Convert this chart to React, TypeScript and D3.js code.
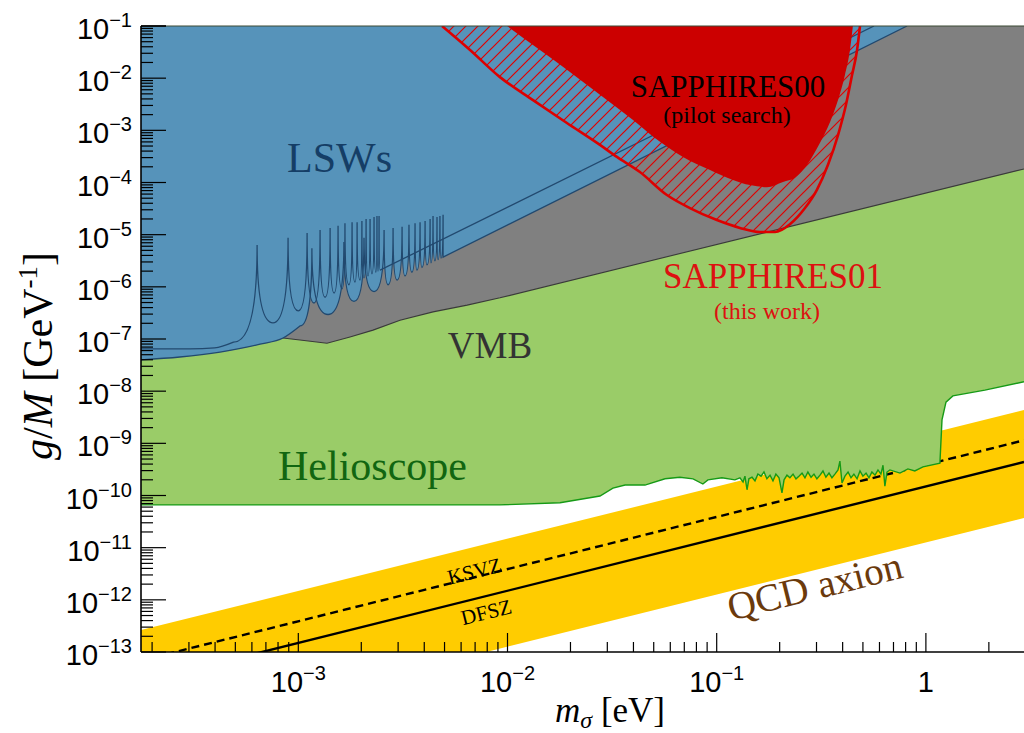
import * as d3 from "d3";

type P = [number, number];

// every point is [log10(m / eV), log10(g / GeV^-1)]

// helioscope (CAST-like) lower edge of the excluded region
const helioscope: P[] = [
  [-3.752, -10.18], [-2.275, -10.18], [-2.036, -10.18], [-1.749, -10.14], [-1.558, -10.01],
  [-1.496, -9.86], [-1.438, -9.8], [-1.343, -9.8], [-1.247, -9.68], [-1.176, -9.65],
  [-1.113, -9.68], [-1.066, -9.78], [-1.042, -9.7], [-0.975, -9.66], [-0.913, -9.7],
  [-0.889, -9.66], [-0.874, -9.74], [-0.865, -9.63], [-0.855, -9.89], [-0.846, -9.68],
  [-0.831, -9.65], [-0.817, -9.72], [-0.803, -9.59], [-0.788, -9.63], [-0.774, -9.55],
  [-0.76, -9.68], [-0.745, -9.61], [-0.731, -9.72], [-0.717, -9.59], [-0.702, -9.66],
  [-0.688, -9.95], [-0.678, -9.7], [-0.664, -9.61], [-0.65, -9.66], [-0.635, -9.59],
  [-0.621, -9.68], [-0.607, -9.63], [-0.592, -9.57], [-0.578, -9.66], [-0.564, -9.55],
  [-0.549, -9.65], [-0.535, -9.59], [-0.521, -9.68], [-0.506, -9.61], [-0.492, -9.53],
  [-0.478, -9.65], [-0.463, -9.57], [-0.449, -9.66], [-0.435, -9.59], [-0.42, -9.51],
  [-0.411, -9.34], [-0.401, -9.76], [-0.387, -9.63], [-0.372, -9.55], [-0.358, -9.66],
  [-0.344, -9.59], [-0.329, -9.68], [-0.315, -9.53], [-0.301, -9.63], [-0.286, -9.57],
  [-0.272, -9.66], [-0.258, -9.55], [-0.243, -9.61], [-0.229, -9.51], [-0.215, -9.59],
  [-0.205, -9.42], [-0.196, -9.82], [-0.186, -9.55], [-0.172, -9.51], [-0.124, -9.57],
  [-0.086, -9.49], [-0.053, -9.53], [-0.014, -9.45], [0.067, -9.38], [0.077, -8.55],
  [0.096, -8.21], [0.129, -8.09], [0.282, -7.98], [0.469, -7.82],
];

// VMB lower edge
const vmb: P[] = [
  [-3.183, -6.98], [-3.073, -6.98], [-2.992, -7.02], [-2.863, -7.08], [-2.753, -6.96],
  [-2.643, -6.83], [-2.514, -6.64], [-2.356, -6.48], [-2.193, -6.35], [-2.036, -6.21],
  [0.469, -3.74],
];

// LSW experiment A: smooth start, resonance comb (peak, valley, ...), straight tail
const lswLeadA: P[] = [[-3.752, -7.19], [-3.518, -7.19], [-3.40, -7.17], [-3.31, -7.06]];
const lswCombA: P[] = [
  [-3.197, -5.2], [-3.121, -6.69], [-3.049, -5.06], [-3.0, -6.46], [-2.958, -4.97], [-2.925, -6.31],
  [-2.896, -4.91], [-2.872, -6.2], [-2.848, -4.87], [-2.829, -6.12], [-2.81, -4.83], [-2.791, -6.04],
  [-2.777, -4.78], [-2.758, -5.96], [-2.743, -4.76], [-2.729, -5.91], [-2.719, -4.76], [-2.705, -5.87],
  [-2.696, -4.74], [-2.686, -5.83], [-2.676, -4.7], [-2.667, -5.79], [-2.657, -4.7], [-2.648, -5.75],
  [-2.638, -4.66], [-2.629, -5.72], [-2.624, -4.64], [-2.619, -5.7], [-2.614, -4.64], [-2.609, -5.68],
];
const lswTailA: P[] = [[-0.248, -1.0]];

// LSW experiment B
const lswLeadB: P[] = [
  [-3.752, -7.4], [-3.566, -7.345], [-3.374, -7.25], [-3.183, -7.1], [-3.073, -6.98], [-2.992, -6.75],
];
const lswCombB: P[] = [
  [-2.935, -5.26], [-2.858, -6.53], [-2.782, -5.14], [-2.734, -6.28], [-2.686, -5.06], [-2.638, -6.09],
  [-2.59, -4.91], [-2.571, -5.96], [-2.547, -4.87], [-2.528, -5.87], [-2.504, -4.85], [-2.49, -5.79],
  [-2.471, -4.81], [-2.457, -5.72], [-2.442, -4.78], [-2.433, -5.68], [-2.418, -4.76], [-2.409, -5.63],
  [-2.394, -4.74], [-2.385, -5.58], [-2.37, -4.7], [-2.366, -5.54], [-2.356, -4.64], [-2.347, -5.5],
  [-2.337, -4.66], [-2.332, -5.48], [-2.323, -4.64], [-2.318, -5.45], [-2.308, -4.62], [-2.308, -5.43],
];
const lswTailB: P[] = [[-0.09, -1.0]];

// SAPPHIRES00 (pilot search), solid red
const sapphires00: P[] = [
  [-2.002, -1.0], [-1.845, -1.46], [-1.716, -1.84], [-1.558, -2.32], [-1.4, -2.8], [-1.271, -3.22],
  [-1.161, -3.51], [-1.032, -3.76], [-0.922, -3.95], [-0.841, -4.05], [-0.76, -4.09], [-0.683, -3.99],
  [-0.626, -3.91], [-0.568, -3.66], [-0.506, -3.24], [-0.458, -2.84], [-0.42, -2.42], [-0.387, -1.94],
  [-0.363, -1.46], [-0.349, -1.0],
];

// SAPPHIRES01 (this work), hatched
const sapphires01: P[] = [
  [-2.313, -1.0], [-2.179, -1.46], [-2.036, -1.98], [-1.878, -2.42], [-1.716, -2.86], [-1.558, -3.28],
  [-1.477, -3.51], [-1.367, -3.8], [-1.238, -4.24], [-1.128, -4.49], [-0.999, -4.72], [-0.889, -4.87],
  [-0.793, -4.95], [-0.721, -4.95], [-0.65, -4.8], [-0.578, -4.49], [-0.521, -4.14], [-0.468, -3.66],
  [-0.42, -3.09], [-0.382, -2.51], [-0.353, -1.94], [-0.329, -1.46], [-0.315, -1.0],
];

// QCD axion band and model lines
const qcdUpper: P[] = [[-3.752, -12.58], [0.469, -8.36]];
const qcdLower: P[] = [[-3.752, -14.65], [0.469, -10.43]];
const ksvz: P[] = [[-3.752, -13.163], [0.469, -8.942]];
const dfsz: P[] = [[-3.752, -13.578], [0.469, -9.357]];

const xMajor = [-3, -2, -1, 0];
const yMajor = [-13, -12, -11, -10, -9, -8, -7, -6, -5, -4, -3, -2, -1];
const xDecades = [-4, -3, -2, -1, 0];
const yDecades = [-13, -12, -11, -10, -9, -8, -7, -6, -5, -4, -3, -2, -1];

const W = 1024;
const H = 733;
const M = { left: 141, right: 1024, top: 26, bottom: 652 };

const SERIF = "'Liberation Serif', 'Times New Roman', serif";
const SANS = "'Liberation Sans', Arial, sans-serif";

export default function App() {
  const x = d3.scaleLog().domain([10 ** -3.752, 10 ** 0.469]).range([M.left, M.right]);
  const y = d3.scaleLog().domain([1e-13, 1e-1]).range([M.bottom, M.top]);
  const px = (p: P): [number, number] => [x(10 ** p[0]), y(10 ** p[1])];

  const lin = d3.line<[number, number]>();
  const smooth = d3.line<[number, number]>().curve(d3.curveMonotoneX);
  const top = M.top - 3;

  const closeTop = (pts: [number, number][]) =>
    `L${pts[pts.length - 1][0]},${top}L${pts[0][0]},${top}Z`;

  // comb: cusps at peaks, rounded valleys
  function combD(lead: P[], comb: P[], tail: P[]) {
    const L = lead.map(px);
    const C = comb.map(px);
    const T = tail.map(px);
    let d = smooth(L) as string;
    let prev = L[L.length - 1];
    for (const c of C) {
      const hi = prev[1] < c[1] ? prev : c;
      const lo = prev[1] < c[1] ? c : prev;
      d += `Q${hi[0]},${lo[1]} ${c[0]},${c[1]}`;
      prev = c;
    }
    for (const t of T) d += `L${t[0]},${t[1]}`;
    return { d, first: L[0], last: T.length ? T[T.length - 1] : C[C.length - 1] };
  }

  const combA = combD(lswLeadA, lswCombA, lswTailA);
  const combB = combD(lswLeadB, lswCombB, lswTailB);
  const combFill = (c: { d: string; first: number[]; last: number[] }) =>
    `${c.d}L${c.last[0]},${top}L${c.first[0]},${top}Z`;

  const helioPx = helioscope.map(px);
  const vmbPx = vmb.map(px);
  const s00Px = sapphires00.map(px);
  const s01Px = sapphires01.map(px);

  const bandPts = [...qcdUpper.map(px), ...qcdLower.map(px).reverse()];

  const [xLo, xHi] = x.domain();
  const [yLo, yHi] = y.domain();
  const yTicks = yDecades
    .flatMap((e) => d3.range(1, 10).map((k) => ({ v: k * 10 ** e, major: k === 1 })))
    .concat([{ v: 0.1, major: true }])
    .filter((t) => t.v >= yLo * 0.999 && t.v <= yHi * 1.001);
  const xTicks = xDecades
    .flatMap((e) => d3.range(1, 10).map((k) => ({ v: k * 10 ** e, major: k === 1 })))
    .filter((t) => t.v >= xLo && t.v <= xHi);

  const slopeDeg = (Math.atan2(y(1e-10) - y(1e-11), x(1e-1) - x(1e-2)) * 180) / Math.PI;

  return (
    <div style={{ position: "absolute", left: 0, top: 0 }}>
      <svg width={W} height={H} style={{ display: "block", background: "#fff" }}>
        <defs>
          <clipPath id="plot">
            <rect x={M.left} y={M.top} width={M.right - M.left} height={M.bottom - M.top} />
          </clipPath>
          <pattern id="hatch" patternUnits="userSpaceOnUse" width={12} height={12}>
            <path d="M0,12L12,0M-3,3L3,-3M9,15L15,9" stroke="#e00000" strokeWidth={1.2} />
          </pattern>
        </defs>

        <g clipPath="url(#plot)">
          {/* QCD band */}
          <path d={lin(bandPts) + "Z"} fill="#ffcc00" />
          <path d={lin(ksvz.map(px)) as string} stroke="#000" strokeWidth={2.4} strokeDasharray="8,5" fill="none" />
          <path d={lin(dfsz.map(px)) as string} stroke="#000" strokeWidth={2.4} fill="none" />

          {/* helioscope */}
          <path d={lin(helioPx) + closeTop(helioPx)} fill="#9acc68" />
          <path d={lin(helioPx) as string} fill="none" stroke="#169a16" strokeWidth={1.4} />

          {/* VMB */}
          <path d={lin(vmbPx) + closeTop(vmbPx)} fill="#808080" />
          <path d={lin(vmbPx) as string} fill="none" stroke="#3a3a3a" strokeWidth={1.1} />

          {/* LSWs */}
          <path d={combFill(combA)} fill="#5693ba" />
          <path d={combFill(combB)} fill="#5693ba" />
          <path d={combA.d} fill="none" stroke="#22496f" strokeWidth={1.3} />
          <path d={combB.d} fill="none" stroke="#22496f" strokeWidth={1.3} />

          {/* SAPPHIRES01 hatched */}
          <path d={smooth(s01Px) + closeTop(s01Px)} fill="url(#hatch)" />
          {/* SAPPHIRES00 solid */}
          <path d={smooth(s00Px) + closeTop(s00Px)} fill="#cc0000" />
          <path d={smooth(s01Px) as string} fill="none" stroke="#dd0000" strokeWidth={2.6} />
        </g>

        {/* region labels */}
        <text x={287} y={172} fontFamily={SERIF} fontSize={42} fill="#153e66">LSWs</text>
        <text x={728} y={97} fontFamily={SERIF} fontSize={31} fill="#000" textAnchor="middle">SAPPHIRES00</text>
        <text x={727} y={123} fontFamily={SERIF} fontSize={24} fill="#000" textAnchor="middle">(pilot search)</text>
        <text x={773} y={288} fontFamily={SERIF} fontSize={35} fill="#dd1111" textAnchor="middle">SAPPHIRES01</text>
        <text x={767} y={319} fontFamily={SERIF} fontSize={24} fill="#dd1111" textAnchor="middle">(this work)</text>
        <text x={490} y={358} fontFamily={SERIF} fontSize={37} fill="#333" textAnchor="middle">VMB</text>
        <text x={278} y={480} fontFamily={SERIF} fontSize={42} fill="#116611">Helioscope</text>
        <text transform={`translate(818,599) rotate(${slopeDeg})`} fontFamily={SERIF} fontSize={39} fill="#6b3a0c" textAnchor="middle">QCD axion</text>
        <text transform={`translate(476,578) rotate(${slopeDeg})`} fontFamily={SERIF} fontSize={21} fill="#000" textAnchor="middle">KSVZ</text>
        <text transform={`translate(488,619) rotate(${slopeDeg})`} fontFamily={SERIF} fontSize={21} fill="#000" textAnchor="middle">DFSZ</text>

        {/* frame */}
        <line x1={M.left} x2={M.right} y1={M.top} y2={M.top} stroke="#3d4a35" strokeWidth={1.2} />

        {/* ticks */}
        {yTicks.map((t, i) => (
          <line key={`y${i}`} x1={M.left} x2={M.left + (t.major ? 25 : 12)} y1={y(t.v)} y2={y(t.v)} stroke="#000" strokeWidth={1.2} />
        ))}
        {xTicks.map((t, i) => (
          <line key={`x${i}`} y1={M.bottom} y2={M.bottom - (t.major ? 19 : 10)} x1={x(t.v)} x2={x(t.v)} stroke="#000" strokeWidth={1.2} />
        ))}
        <line x1={M.left} x2={M.left} y1={M.top} y2={M.bottom} stroke="#000" strokeWidth={1.6} />
        <line x1={M.left} x2={M.right} y1={M.bottom} y2={M.bottom} stroke="#000" strokeWidth={1.6} />

        {/* y tick labels */}
        {yMajor.map((e) => (
          <text key={`yl${e}`} x={132} y={y(10 ** e) + 13} fontFamily={SANS} fontSize={29} textAnchor="end">
            10<tspan dy={-12} fontSize={20}>{`\u2212${-e}`}</tspan>
          </text>
        ))}
        {/* x tick labels */}
        {xMajor.map((e) => (
          <text key={`xl${e}`} x={x(10 ** e)} y={692} fontFamily={SANS} fontSize={29} textAnchor="middle">
            {e === 0 ? "1" : (
              <>
                10<tspan dy={-12} fontSize={20}>{`\u2212${-e}`}</tspan>
              </>
            )}
          </text>
        ))}

        {/* axis titles */}
        <text x={555} y={722} fontFamily={SERIF} fontSize={35}>
          <tspan fontStyle="italic">m</tspan>
          <tspan fontStyle="italic" fontSize={24} dy={6}>σ</tspan>
          <tspan dy={-6}> [eV]</tspan>
        </text>
        <text transform="translate(52,356) rotate(-90)" fontFamily={SERIF} fontSize={42} textAnchor="middle">
          <tspan fontStyle="italic">g</tspan>/<tspan fontStyle="italic">M</tspan> [GeV<tspan dy={-15} fontSize={27}>-1</tspan><tspan dy={15}>]</tspan>
        </text>
      </svg>
    </div>
  );
}
